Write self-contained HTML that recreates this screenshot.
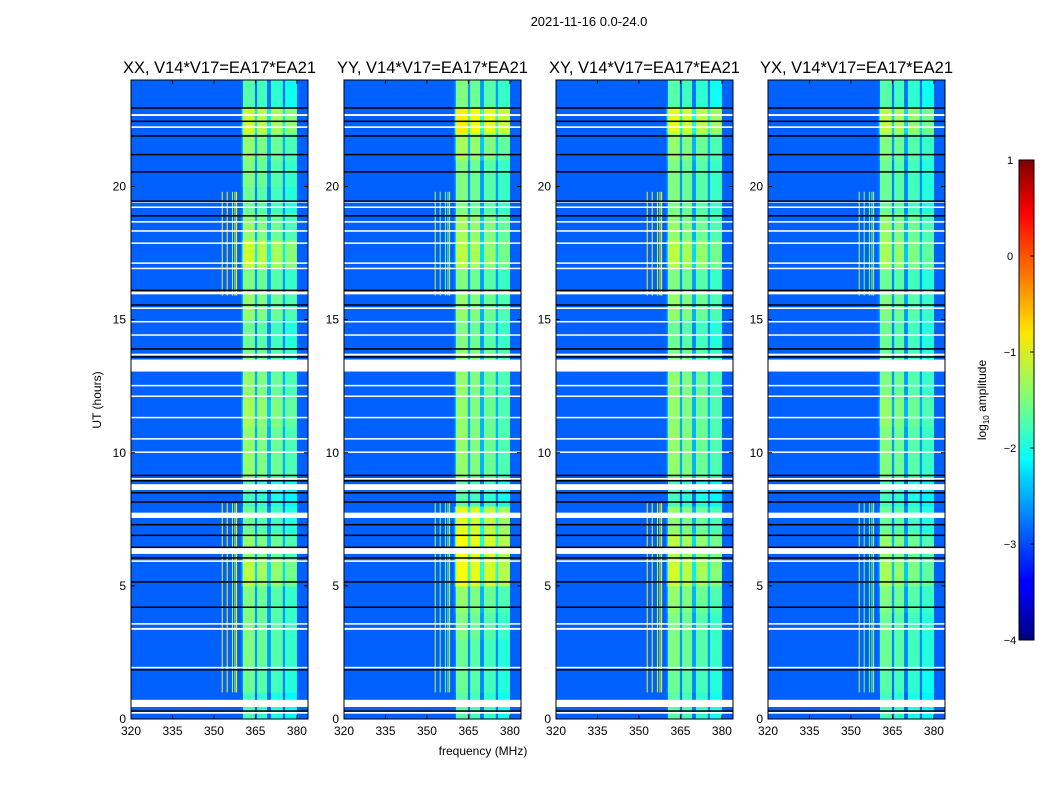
<!DOCTYPE html>
<html><head><meta charset="utf-8">
<style>
body{margin:0;background:#fff;width:1050px;height:800px;overflow:hidden;font-family:"Liberation Sans","DejaVu Sans",sans-serif}
svg text{font-family:"Liberation Sans","DejaVu Sans",sans-serif}
</style></head>
<body>
<svg id="chart" width="1050" height="800" xmlns="http://www.w3.org/2000/svg">
<defs>
<linearGradient id="jet" x1="0" y1="1" x2="0" y2="0">
<stop offset="0" stop-color="#00007f"/><stop offset="0.11" stop-color="#0000ff"/>
<stop offset="0.125" stop-color="#0000ff"/><stop offset="0.34" stop-color="#00d4ff"/>
<stop offset="0.375" stop-color="#00ffff"/><stop offset="0.5" stop-color="#7dff7a"/>
<stop offset="0.64" stop-color="#ffe600"/><stop offset="0.66" stop-color="#ffd400"/>
<stop offset="0.89" stop-color="#ff0000"/><stop offset="1" stop-color="#7f0000"/>
</linearGradient>
</defs>
<text x="589" y="26" font-size="13" text-anchor="middle">2021-11-16 0.0-24.0</text>
<g id="panels"></g>
<text x="483" y="755" font-size="12" text-anchor="middle">frequency (MHz)</text>
<text x="101" y="400" font-size="12" text-anchor="middle" transform="rotate(-90 101 400)">UT (hours)</text>
<g>
<rect x="1019" y="160" width="15" height="480" fill="url(#jet)" stroke="#000" stroke-width="1"/>
</g>
<g id="cbticks"></g>
<text x="986" y="400" font-size="12" text-anchor="middle" transform="rotate(-90 986 400)">log<tspan font-size="8" dy="3">10</tspan><tspan dy="-3"> amplitude</tspan></text>
</svg>
<script>
const panelTitles=["XX, V14*V17=EA17*EA21","YY, V14*V17=EA17*EA21","XY, V14*V17=EA17*EA21","YX, V14*V17=EA17*EA21"];
const panelLefts=[131,344,556,768];
const xTicks=[320,335,350,365,380];
const yTicks=[0,5,10,15,20];
const cbTicks=[1,0,-1,-2,-3,-4];
// bright frequency bands [startMHz,endMHz,offset]
const bandRanges=[[360.5,364.8,0],[365.6,369.2,-0.1],[370.6,374.9,-0.2],[375.7,380,-0.35]];
const gapRanges=[[364.8,365.6],[369.2,370.6],[374.9,375.7],[360,360.5]];
// hourly band level (log10 amplitude) per panel
const levelXX=[-1.8,-1.6,-1.5,-1.5,-1.5,-1.2,-1.4,-1.6,-1.8,-1.4,-1.4,-1.3,-1.4,-1.5,-1.6,-1.4,-1.5,-1.1,-1.4,-1.6,-1.5,-1.4,-1.1,-1.7];
const levelYY=[-1.7,-1.6,-1.6,-1.5,-1.4,-0.9,-0.9,-1.0,-1.7,-1.4,-1.4,-1.4,-1.4,-1.4,-1.5,-1.4,-1.5,-1.2,-1.3,-1.5,-1.5,-1.3,-0.8,-1.5];
const levelXY=[-1.7,-1.6,-1.5,-1.5,-1.4,-1.1,-1.2,-1.4,-1.8,-1.4,-1.4,-1.4,-1.4,-1.5,-1.6,-1.4,-1.5,-1.2,-1.4,-1.5,-1.5,-1.4,-1.0,-1.7];
const levelYX=[-1.8,-1.7,-1.6,-1.6,-1.5,-1.3,-1.4,-1.6,-1.8,-1.5,-1.5,-1.4,-1.5,-1.6,-1.6,-1.5,-1.6,-1.3,-1.4,-1.6,-1.6,-1.5,-1.2,-1.7];
const panelLevels=[levelXX,levelYY,levelXY,levelYX];
const bgLevel=-2.9;
// flagged (white) time ranges in hours
const flagRanges=[[0.45,0.72],[0.2,0.27],[1.9,1.96],[3.35,3.42],[3.55,3.6],[5.9,5.96],[6.2,6.42],[7.55,7.75],[8.6,8.82],[9.0,9.05],[10.0,10.05],[10.5,10.55],[11.3,11.35],[12.1,12.15],[12.5,12.55],[13.05,13.5],[13.65,13.72],[14.4,14.45],[14.9,14.95],[15.4,15.46],[15.95,16.05],[16.9,16.95],[17.1,17.15],[17.85,17.9],[18.3,18.36],[18.65,18.7],[19.2,19.25],[19.4,19.45],[22.2,22.26],[22.65,22.72]];
// black line times in hours
const blackLines=[0.3,1.85,4.2,5.15,6.05,6.45,6.9,7.3,8.15,8.5,8.95,9.15,13.6,13.9,15.55,16.1,18.9,19.45,20.55,21.2,21.9,22.45,22.95];
// vertical RFI channels [MHz, level]
const rfiChans=[[352.8,-0.8],[354.6,-1.0],[356.5,-1.2],[357.4,-1.1],[358.0,-0.9]];

const NS="http://www.w3.org/2000/svg";
const PW=177,PT=80,PB=719,FMIN=320,FMAX=384,HMAX=24;
function jet(v){let t=(v+4)/5;t=Math.max(0,Math.min(1,t));
 const c=x=>Math.round(255*Math.max(0,Math.min(1,x)));
 return `rgb(${c(1.5-Math.abs(4*t-3))},${c(1.5-Math.abs(4*t-2))},${c(1.5-Math.abs(4*t-1))})`;}
function mk(tag,attrs,parent){const e=document.createElementNS(NS,tag);for(const k in attrs)e.setAttribute(k,attrs[k]);parent.appendChild(e);return e;}
const root=document.getElementById('panels');
panelLefts.forEach((L,pi)=>{
 const xs=f=>L+(f-FMIN)/(FMAX-FMIN)*PW;
 const ys=h=>PB-h/HMAX*(PB-PT);
 const g=mk('g',{},root);
 
 
 const bg=mk('rect',{x:L,y:PT,width:PW,height:PB-PT,fill:jet(bgLevel)},g);
 
 
 const lv=panelLevels[pi];
 for(let h=0;h<HMAX;h++){
  gapRanges.forEach(([a,b])=>{
   const r=mk('rect',{x:xs(a),y:ys(h+1),width:xs(b)-xs(a),height:ys(h)-ys(h+1)+0.5,fill:jet(lv[h]-1.1)},g);
   
   
  });
  bandRanges.forEach(([a,b,o])=>{
   const r=mk('rect',{x:xs(a),y:ys(h+1),width:xs(b)-xs(a),height:ys(h)-ys(h+1)+0.5,fill:jet(lv[h]+o)},g);
   
   
  });
 }
 rfiChans.forEach(([f,v])=>{
  [[1,8.1],[15.9,19.8]].forEach(([a,b])=>{
   const r=mk('rect',{x:xs(f),y:ys(b),width:1,height:ys(a)-ys(b),fill:jet(v-(pi%2)*0.4)},g);
   
   
  });
 });
 flagRanges.forEach(([a,b])=>{
  const r=mk('rect',{x:L,y:ys(b),width:PW,height:Math.max(1.5,ys(a)-ys(b)),fill:'#fff'},g);
  
  
 });
 blackLines.forEach(h=>{
  const r=mk('rect',{x:L,y:ys(h)-0.7,width:PW,height:1.5,fill:'#000'},g);
  
  
 });
 const fr=mk('rect',{x:L,y:PT,width:PW,height:PB-PT,fill:'none',stroke:'#000','stroke-width':1},g);
 
 
 const t=mk('text',{x:L+PW/2,y:PT-7,'font-size':16.5,'text-anchor':'middle'},g);
 t.textContent=panelTitles[pi];
 
 
 xTicks.forEach(v=>{const x=xs(v);
  mk('line',{x1:x,x2:x,y1:PB,y2:PB-4,stroke:'#000'},g);mk('line',{x1:x,x2:x,y1:PT,y2:PT+4,stroke:'#000'},g);
  const tx=mk('text',{x:x,y:PB+16,'font-size':12,'text-anchor':'middle'},g);tx.textContent=v;
  
  
 });
 yTicks.forEach(v=>{const y=ys(v);
  mk('line',{x1:L,x2:L+4,y1:y,y2:y,stroke:'#000'},g);mk('line',{x1:L+PW,x2:L+PW-4,y1:y,y2:y,stroke:'#000'},g);
  const ty=mk('text',{x:L-5,y:y+4,'font-size':12,'text-anchor':'end'},g);ty.textContent=v;
  
  
 });
});
const cb=document.getElementById('cbticks');
cbTicks.forEach(v=>{const y=640-(v+4)/5*480;
 mk('line',{x1:1030,x2:1034,y1:y,y2:y,stroke:'#000'},cb);
 const t=mk('text',{x:1010,y:y+4,'font-size':11,'text-anchor':'middle'},cb);
 t.textContent=v<0?'\u2212'+(-v):String(v);
 
 
});
</script>
</body></html>
